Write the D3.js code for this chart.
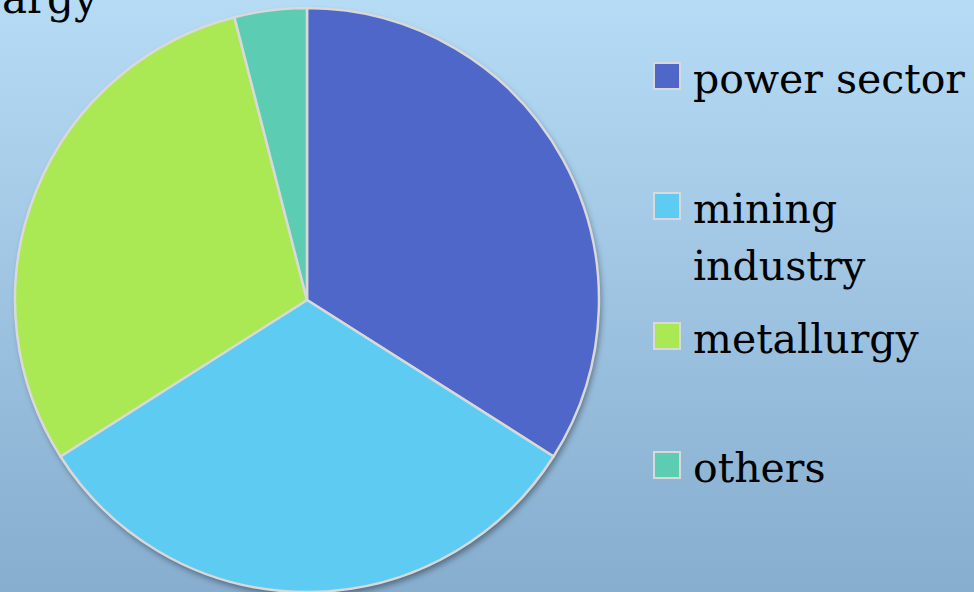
<!DOCTYPE html>
<html><head><meta charset="utf-8">
<script src="https://cdn.jsdelivr.net/npm/d3@7"></script>
<style>html,body{margin:0;padding:0;overflow:hidden;}</style>
</head><body>
<script>
const categories = ["power sector", "mining industry", "metallurgy", "others"];
const values = [34, 32, 30, 4];
const colors = ["#4F67C8", "#5ECCF2", "#AAE953", "#5CCDB3"];
const legendLines = [["power sector"], ["mining", "industry"], ["metallurgy"], ["others"]];
const cornerText = "argy";

const W = 974, H = 592;
const svg = d3.select("body").append("svg").attr("width", W).attr("height", H);
const defs = svg.append("defs");
const grad = defs.append("linearGradient").attr("id", "bg").attr("x1", 0).attr("y1", 0).attr("x2", 0).attr("y2", 1);
grad.append("stop").attr("offset", "0%").attr("stop-color", "#B5DBF5");
grad.append("stop").attr("offset", "100%").attr("stop-color", "#87ADCF");
svg.append("rect").attr("width", W).attr("height", H).attr("fill", "url(#bg)");

const f = defs.append("filter").attr("id", "sh").attr("x", "-20%").attr("y", "-20%").attr("width", "140%").attr("height", "140%");
f.append("feDropShadow").attr("dx", 2).attr("dy", 4).attr("stdDeviation", 3).attr("flood-color", "#000").attr("flood-opacity", 0.4);

const font = "'DejaVu Serif', serif";
svg.append("text").attr("x", 2).attr("y", 13).attr("text-anchor", "start")
  .attr("font-family", font).attr("font-size", 42).attr("fill", "#000").text(cornerText);

const cx = 307, cy = 300, r = 292;
const pie = d3.pie().sort(null).value(d => d)(values);
const arc = d3.arc().innerRadius(0).outerRadius(r);
const g = svg.append("g").attr("transform", `translate(${cx},${cy})`);
g.append("circle").attr("r", r).attr("fill", "#D9D9D9").attr("filter", "url(#sh)");
g.selectAll("path").data(pie).join("path")
  .attr("d", arc).attr("fill", (d, i) => colors[i])
  .attr("stroke", "#D9D9D9").attr("stroke-width", 2.5).attr("stroke-linejoin", "round");

const baselines = [93, 223, 353, 482];
const leg = svg.append("g");
categories.forEach((c, i) => {
  const b = baselines[i];
  leg.append("rect").attr("x", 654).attr("y", b - 30).attr("width", 26).attr("height", 26)
    .attr("fill", colors[i]).attr("stroke", "#D9D9D9").attr("stroke-width", 2);
  const t = leg.append("text").attr("x", 693).attr("y", b)
    .attr("font-family", font).attr("font-size", 41).attr("fill", "#000");
  legendLines[i].forEach((ln, j) => {
    t.append("tspan").attr("x", 693).attr("dy", j === 0 ? 0 : 57).text(ln);
  });
});
</script>
</body></html>
